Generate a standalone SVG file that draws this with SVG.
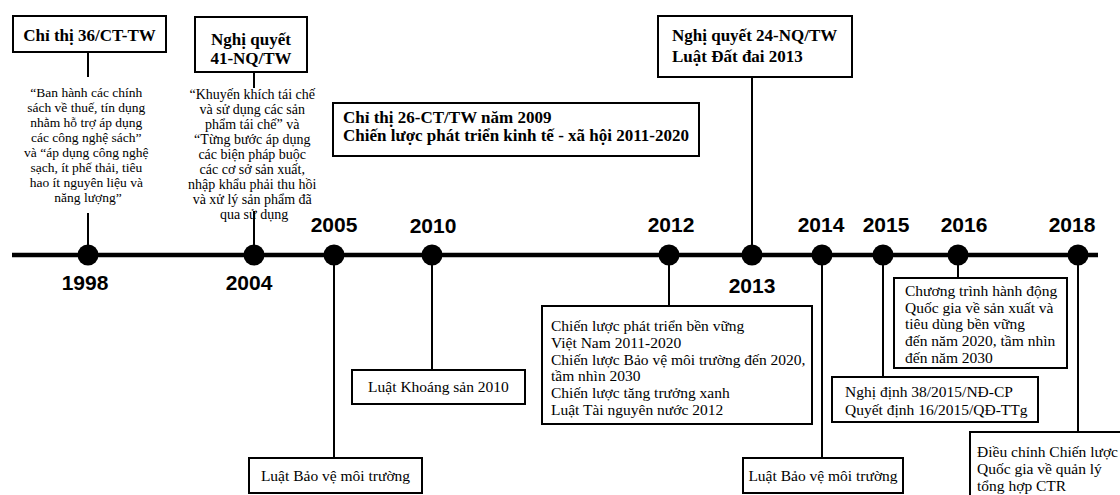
<svg xmlns="http://www.w3.org/2000/svg" width="1120" height="495" viewBox="0 0 1120 495">
<style>
.box{fill:#fff;stroke:#000;stroke-width:2}
.ln{stroke:#000;stroke-width:2;fill:none}
.tl{stroke:#000;stroke-width:4.5;fill:none}
.dot{fill:#000}
.hd{font-family:"Liberation Serif","Times New Roman",serif;font-weight:bold;font-size:17px;fill:#000}
.tx{font-family:"Liberation Serif","Times New Roman",serif;font-size:15.5px;fill:#000}
.q{font-family:"Liberation Serif","Times New Roman",serif;font-size:13.5px;fill:#000;text-anchor:middle}
.yr{font-family:"Liberation Sans",Arial,sans-serif;font-weight:bold;font-size:21px;text-anchor:middle;fill:#000}
.mid{text-anchor:middle}
</style>
<rect width="1120" height="495" fill="#fff"/>

<g id="connectors">
  <line class="tl" x1="12" y1="255" x2="1098" y2="255"/>
  <line class="ln" x1="88" y1="52" x2="88" y2="77"/>
  <line class="ln" x1="88" y1="213" x2="88" y2="255"/>
  <line class="ln" x1="254" y1="72" x2="254" y2="88"/>
  <line class="ln" x1="254" y1="211" x2="254" y2="255"/>
  <line class="ln" x1="752" y1="72" x2="752" y2="255"/>
  <line class="ln" x1="334" y1="255" x2="334" y2="458"/>
  <line class="ln" x1="432" y1="255" x2="432" y2="370"/>
  <line class="ln" x1="669" y1="255" x2="669" y2="306"/>
  <line class="ln" x1="822" y1="255" x2="822" y2="458"/>
  <line class="ln" x1="883" y1="255" x2="883" y2="377"/>
  <line class="ln" x1="958" y1="255" x2="958" y2="278"/>
  <line class="ln" x1="1078" y1="255" x2="1078" y2="432"/>
</g>

<g id="n1998">
  <circle class="dot" cx="88" cy="255" r="10.5"/>
  <text class="yr" x="85" y="290">1998</text>
  <rect class="box" x="13" y="16" width="153" height="36"/>
  <text class="hd mid" x="89.5" y="41">Chỉ thị 36/CT-TW</text>
  <text class="q" x="88" y="97">
    <tspan x="88" y="97">“Ban hành các chính</tspan>
    <tspan x="88" y="112">sách về thuế, tín dụng</tspan>
    <tspan x="88" y="127">nhằm hỗ trợ áp dụng</tspan>
    <tspan x="88" y="142">các công nghệ sách”</tspan>
    <tspan x="88" y="157">và “áp dụng công nghệ</tspan>
    <tspan x="88" y="172">sạch, ít phế thải, tiêu</tspan>
    <tspan x="88" y="187">hao ít nguyên liệu và</tspan>
    <tspan x="88" y="202">năng lượng”</tspan>
  </text>
</g>

<g id="n2004">
  <circle class="dot" cx="254" cy="255" r="10.5"/>
  <text class="yr" x="249" y="290">2004</text>
  <rect class="box" x="195" y="17" width="112" height="55"/>
  <text class="hd mid" x="251" y="45">Nghị quyết</text>
  <text class="hd mid" x="251" y="64">41-NQ/TW</text>
  <text class="q" x="254" y="99" style="font-size:14px">
    <tspan x="254" y="99">“Khuyến khích tái chế</tspan>
    <tspan x="254" y="114">và sử dụng các sản</tspan>
    <tspan x="254" y="129">phẩm tái chế” và</tspan>
    <tspan x="254" y="144">“Từng bước áp dụng</tspan>
    <tspan x="254" y="159">các biện pháp buộc</tspan>
    <tspan x="254" y="174">các cơ sở sản xuất,</tspan>
    <tspan x="254" y="189">nhập khẩu phải thu hồi</tspan>
    <tspan x="254" y="204">và xử lý sản phẩm đã</tspan>
    <tspan x="254" y="219">qua sử dụng</tspan>
  </text>
</g>

<g id="n2005">
  <circle class="dot" cx="334" cy="255" r="10.5"/>
  <text class="yr" x="334" y="232">2005</text>
  <rect class="box" x="249" y="458" width="173" height="35"/>
  <text class="tx mid" x="335.5" y="481">Luật Bảo vệ môi trường</text>
</g>

<g id="n2009">
  <rect class="box" x="333" y="103" width="366" height="53"/>
  <text class="hd" x="343" y="123">Chỉ thị 26-CT/TW năm 2009</text>
  <text class="hd" x="343" y="141">Chiến lược phát triển kinh tế - xã hội 2011-2020</text>
</g>

<g id="n2010">
  <circle class="dot" cx="432" cy="255" r="10.5"/>
  <text class="yr" x="433" y="233">2010</text>
  <rect class="box" x="352" y="370" width="173" height="34"/>
  <text class="tx mid" x="438.5" y="392">Luật Khoáng sản 2010</text>
</g>

<g id="n2012">
  <circle class="dot" cx="669" cy="255" r="10.5"/>
  <text class="yr" x="671" y="232">2012</text>
  <rect class="box" x="542" y="306" width="270" height="118"/>
  <text class="tx" x="551" y="331">
    <tspan x="551" y="331">Chiến lược phát triển bền vững</tspan>
    <tspan x="551" y="347.8">Việt Nam 2011-2020</tspan>
    <tspan x="551" y="364.6">Chiến lược Bảo vệ môi trường đến 2020,</tspan>
    <tspan x="551" y="381.4">tầm nhìn 2030</tspan>
    <tspan x="551" y="398.2">Chiến lược tăng trưởng xanh</tspan>
    <tspan x="551" y="415">Luật Tài nguyên nước 2012</tspan>
  </text>
</g>

<g id="n2013">
  <circle class="dot" cx="752" cy="255" r="10.5"/>
  <text class="yr" x="752" y="293">2013</text>
  <rect class="box" x="658" y="16" width="194" height="61"/>
  <text class="hd" x="672" y="41">Nghị quyết 24-NQ/TW</text>
  <text class="hd" x="672" y="62">Luật Đất đai 2013</text>
</g>

<g id="n2014">
  <circle class="dot" cx="822" cy="255" r="10.5"/>
  <text class="yr" x="821" y="232">2014</text>
  <rect class="box" x="743" y="458" width="160" height="35"/>
  <text class="tx mid" x="823" y="481">Luật Bảo vệ môi trường</text>
</g>

<g id="n2015">
  <circle class="dot" cx="883" cy="255" r="10.5"/>
  <text class="yr" x="886" y="232">2015</text>
  <rect class="box" x="832" y="377" width="206" height="45"/>
  <text class="tx" x="845" y="397">
    <tspan x="845" y="397">Nghị định 38/2015/NĐ-CP</tspan>
    <tspan x="845" y="414.5">Quyết định 16/2015/QĐ-TTg</tspan>
  </text>
</g>

<g id="n2016">
  <circle class="dot" cx="958" cy="255" r="10.5"/>
  <text class="yr" x="964" y="232">2016</text>
  <rect class="box" x="894" y="278" width="173" height="90"/>
  <text class="tx" x="905" y="296">
    <tspan x="905" y="296">Chương trình hành động</tspan>
    <tspan x="905" y="312.7">Quốc gia về sản xuất và</tspan>
    <tspan x="905" y="329.4">tiêu dùng bền vững</tspan>
    <tspan x="905" y="346.1">đến năm 2020, tầm nhìn</tspan>
    <tspan x="905" y="362.8">đến năm 2030</tspan>
  </text>
</g>

<g id="n2018">
  <circle class="dot" cx="1078" cy="255" r="10.5"/>
  <text class="yr" x="1072" y="232">2018</text>
  <rect class="box" x="970" y="432" width="170" height="80"/>
  <text class="tx" x="977" y="457">
    <tspan x="977" y="457">Điều chỉnh Chiến lược</tspan>
    <tspan x="977" y="474">Quốc gia về quản lý</tspan>
    <tspan x="977" y="491">tổng hợp CTR</tspan>
  </text>
</g>
</svg>
